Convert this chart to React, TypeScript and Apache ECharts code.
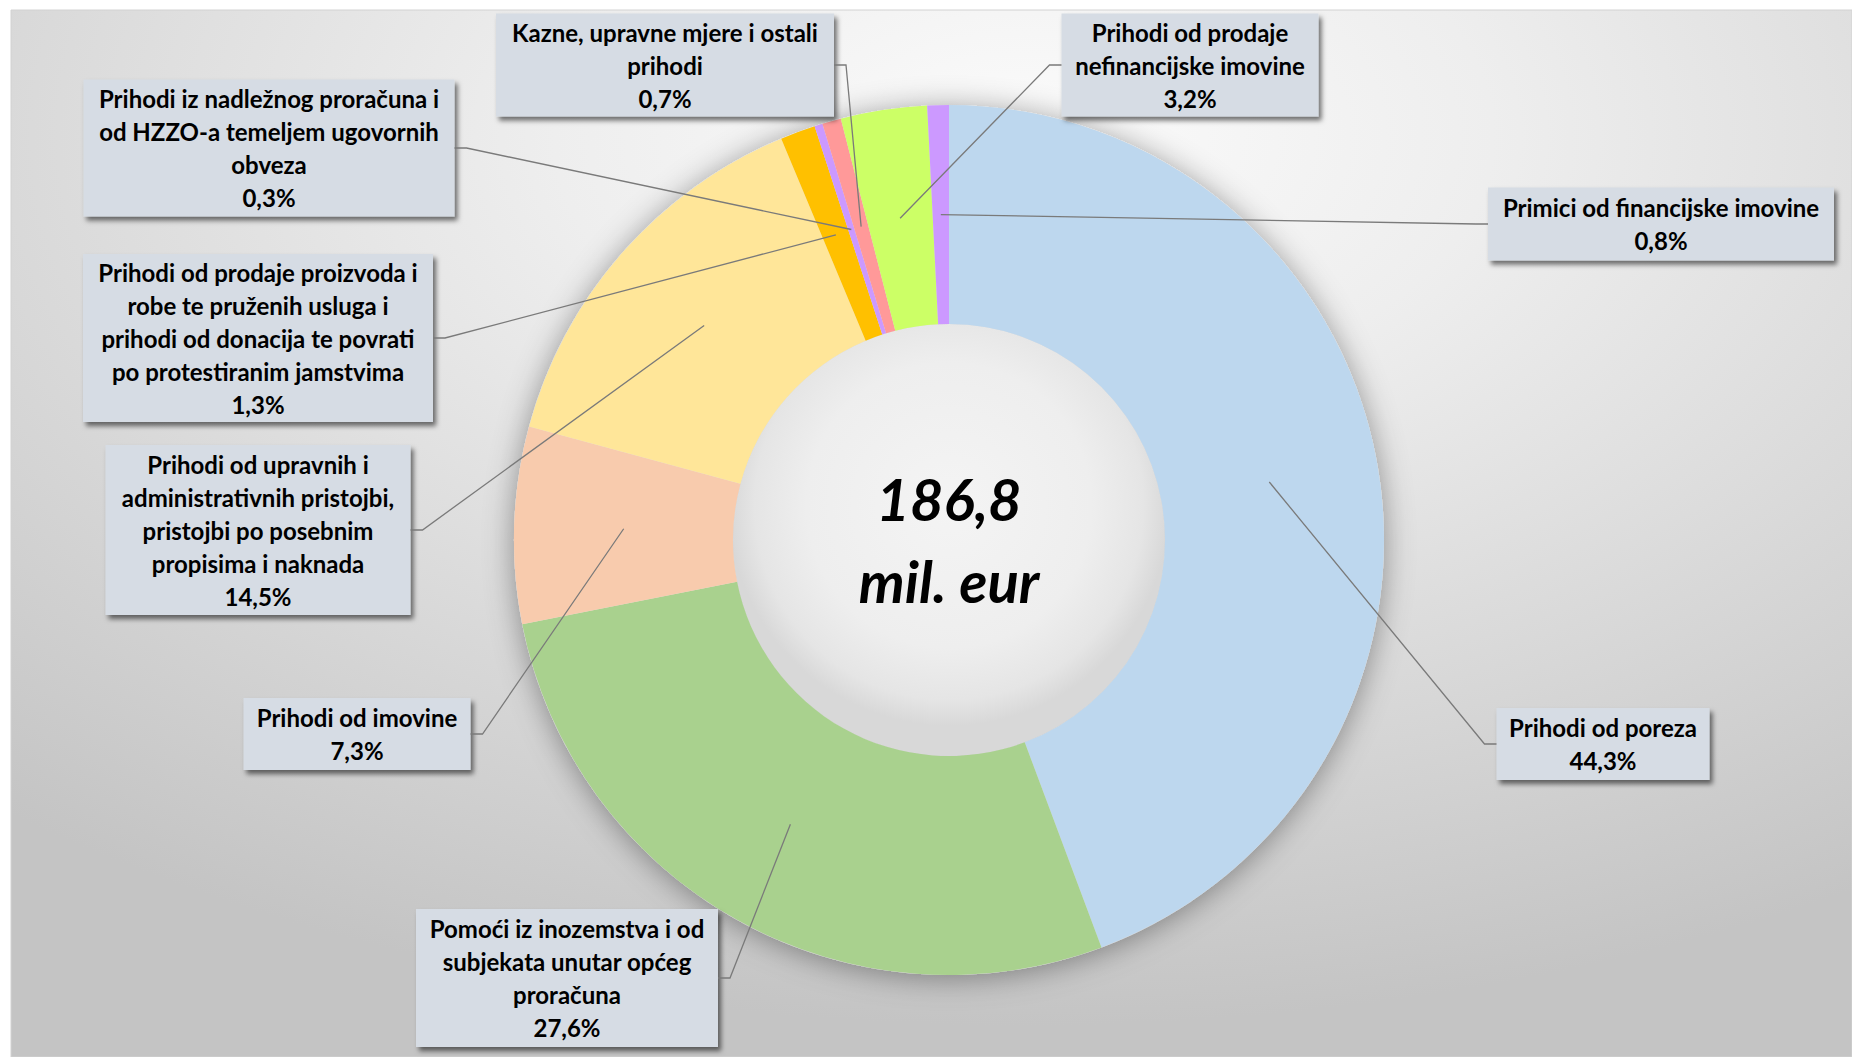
import React, { useEffect, useRef } from "react";
import * as echarts from "echarts";

// ---------- DATA ----------
const categories: string[] = [
  "Prihodi od poreza",
  "Pomoći iz inozemstva i od subjekata unutar općeg proračuna",
  "Prihodi od imovine",
  "Prihodi od upravnih i administrativnih pristojbi, pristojbi po posebnim propisima i naknada",
  "Prihodi od prodaje proizvoda i robe te pruženih usluga i prihodi od donacija te povrati po protestiranim jamstvima",
  "Prihodi iz nadležnog proračuna i od HZZO-a temeljem ugovornih obveza",
  "Kazne, upravne mjere i ostali prihodi",
  "Prihodi od prodaje nefinancijske imovine",
  "Primici od financijske imovine",
];

const sharePct: number[] = [44.3, 27.6, 7.3, 14.5, 1.3, 0.3, 0.7, 3.2, 0.8];

// wrapped label text, as in the original boxes
const labelText: string[][] = [
  ["Prihodi od poreza"],
  ["Pomoći iz inozemstva i od", "subjekata unutar općeg", "proračuna"],
  ["Prihodi od imovine"],
  ["Prihodi od upravnih i", "administrativnih pristojbi,", "pristojbi po posebnim", "propisima i naknada"],
  ["Prihodi od prodaje proizvoda i", "robe te pruženih usluga i", "prihodi od donacija te povrati", "po protestiranim jamstvima"],
  ["Prihodi iz nadležnog proračuna i", "od HZZO-a temeljem ugovornih", "obveza"],
  ["Kazne, upravne mjere i ostali", "prihodi"],
  ["Prihodi od prodaje", "nefinancijske imovine"],
  ["Primici od financijske imovine"],
];

const totalLines: string[] = ["186,8", "mil. eur"];

// ---------- STYLE / LAYOUT ----------
const sliceColors = [
  "#BDD7EE", "#A9D18E", "#F8CBAD", "#FFE699", "#FFC000",
  "#CC99FF", "#FF9999", "#CCFF66", "#CC99FF",
];

const FONT = "Lato, 'Open Sans', sans-serif";
const CENTER = [949, 540];
const RADII = [216, 435];
const LINE_H = 33;
const ELBOW = 12;
const PIE_INDEX = 2;

// label box centre / size (layout only)
const LABEL_BOXES = [
  { cx: 1603, cy: 744, w: 213, h: 72 },
  { cx: 567, cy: 978, w: 302, h: 138 },
  { cx: 357, cy: 734, w: 227, h: 72 },
  { cx: 258, cy: 530, w: 305, h: 170 },
  { cx: 258, cy: 338, w: 350, h: 168 },
  { cx: 269, cy: 148, w: 371, h: 137 },
  { cx: 665, cy: 65, w: 338, h: 103 },
  { cx: 1190, cy: 65, w: 257, h: 103 },
  { cx: 1661, cy: 224, w: 346, h: 73 },
];

const fmtPct = (v: number) => v.toFixed(1).replace(".", ",") + "%";

export default function App() {
  const ref = useRef<HTMLDivElement>(null);

  useEffect(() => {
    if (!ref.current) return;
    const chart = echarts.init(ref.current, undefined, { renderer: "svg" });
    const W = ref.current.clientWidth;
    const H = ref.current.clientHeight;

    const total = sharePct.reduce((a, b) => a + b, 0);
    const fallbackAnchor = (i: number) => {
      let before = 0;
      for (let k = 0; k < i; k++) before += sharePct[k];
      const midFrac = (before + sharePct[i] / 2) / total;
      const ang = -Math.PI / 2 + midFrac * Math.PI * 2;
      const rm = (RADII[0] + RADII[1]) / 2;
      return [CENTER[0] + rm * Math.cos(ang), CENTER[1] + rm * Math.sin(ang)];
    };

    const data = categories.map((name, i) => {
      const b = LABEL_BOXES[i];
      const nLines = labelText[i].length + 1;
      const padV = Math.max(0, (b.h - nLines * LINE_H) / 2);
      return {
        name,
        value: sharePct[i],
        itemStyle: { color: sliceColors[i] },
        label: { width: b.w, padding: [padV, 0, padV, 0] },
      };
    });

    const textStyleCenter = {
      fontFamily: FONT,
      fontSize: 58,
      fontWeight: "bold",
      fontStyle: "italic",
      fill: "#000",
      align: "center",
      verticalAlign: "middle",
    };

    const option: any = {
      animation: false,
      backgroundColor: "#ffffff",
      graphic: [
        {
          id: "bg",
          type: "rect",
          z: -10,
          silent: true,
          shape: { x: 11, y: 10, width: W - 11, height: H - 10 },
          style: {
            fill: new echarts.graphic.RadialGradient(0.55, 0.12, 0.85, [
              { offset: 0, color: "#fbfbfb" },
              { offset: 0.3, color: "#eeeeee" },
              { offset: 0.65, color: "#d9d9d9" },
              { offset: 1, color: "#c4c4c4" },
            ]),
            stroke: "#d2d2d2",
            lineWidth: 1,
          },
        },
        {
          id: "total0",
          type: "text",
          z: 100,
          silent: true,
          x: CENTER[0],
          y: CENTER[1] - 42,
          style: { text: totalLines[0], ...textStyleCenter },
        },
        {
          id: "total1",
          type: "text",
          z: 100,
          silent: true,
          x: CENTER[0],
          y: CENTER[1] + 40,
          style: { text: totalLines[1], ...textStyleCenter },
        },
      ],
      series: [
        {
          // soft drop shadow under the ring
          type: "pie",
          z: 1,
          silent: true,
          center: CENTER,
          radius: RADII,
          label: { show: false },
          labelLine: { show: false },
          emphasis: { disabled: true },
          data: [{ value: 1 }],
          itemStyle: {
            color: "#e2e2e2",
            shadowBlur: 30,
            shadowColor: "rgba(0,0,0,0.38)",
            shadowOffsetY: 3,
          },
        },
        {
          // inner disc
          type: "pie",
          z: 1,
          silent: true,
          center: CENTER,
          radius: [0, RADII[0]],
          label: { show: false },
          labelLine: { show: false },
          emphasis: { disabled: true },
          data: [{ value: 1 }],
          itemStyle: {
            color: new echarts.graphic.RadialGradient(0.5, 0.42, 0.6, [
              { offset: 0, color: "#f4f4f4" },
              { offset: 0.55, color: "#eeeeee" },
              { offset: 0.75, color: "#e5e5e5" },
              { offset: 0.85, color: "#d8d8d8" },
            ]),
          },
        },
        {
          type: "pie",
          z: 2,
          center: CENTER,
          radius: RADII,
          startAngle: 90,
          clockwise: true,
          avoidLabelOverlap: false,
          emphasis: { disabled: true },
          itemStyle: { borderWidth: 0 },
          label: {
            show: true,
            position: "outside",
            formatter: (p: any) =>
              labelText[p.dataIndex].join("\n") + "\n" + fmtPct(sharePct[p.dataIndex]),
            fontFamily: FONT,
            fontSize: 24,
            fontWeight: "bold",
            color: "#000",
            lineHeight: LINE_H,
            align: "center",
            verticalAlign: "middle",
            backgroundColor: "#D6DCE4",
            shadowColor: "rgba(0,0,0,0.55)",
            shadowBlur: 5,
            shadowOffsetX: 3,
            shadowOffsetY: 4,
          },
          labelLine: { show: false },
          labelLayout: (p: any) => {
            const b = LABEL_BOXES[p.dataIndex];
            return { x: b.cx, y: b.cy, align: "center", verticalAlign: "middle" };
          },
          data,
        },
      ],
    };

    chart.setOption(option);

    // leader lines from each slice's centre (mid angle, mid radius) to its box
    const anchorOf = (i: number) => {
      try {
        const lay = (chart as any)
          .getModel()
          .getSeriesByIndex(PIE_INDEX)
          .getData()
          .getItemLayout(i);
        if (lay && lay.cx != null) {
          const mid = (lay.startAngle + lay.endAngle) / 2;
          const rm = (lay.r + lay.r0) / 2;
          return [lay.cx + rm * Math.cos(mid), lay.cy + rm * Math.sin(mid)];
        }
      } catch (e) {
        /* fall back */
      }
      return fallbackAnchor(i);
    };

    const leaderLines = categories.map((_, i) => {
      const b = LABEL_BOXES[i];
      const a = anchorOf(i);
      const leftSide = b.cx > a[0];
      const edgeX = leftSide ? b.cx - b.w / 2 : b.cx + b.w / 2;
      const elbowX = leftSide ? edgeX - ELBOW : edgeX + ELBOW;
      return {
        id: "leader" + i,
        type: "polyline",
        z: 50,
        silent: true,
        shape: { points: [[a[0], a[1]], [elbowX, b.cy], [edgeX, b.cy]] },
        style: { stroke: "#7A7A7A", lineWidth: 1.3, fill: null },
      };
    });

    chart.setOption({ graphic: leaderLines });

    const onResize = () => chart.resize();
    window.addEventListener("resize", onResize);
    return () => {
      window.removeEventListener("resize", onResize);
      chart.dispose();
    };
  }, []);

  return (
    <div
      ref={ref}
      style={{ position: "fixed", left: 0, top: 0, width: "100vw", height: "100vh" }}
    />
  );
}
